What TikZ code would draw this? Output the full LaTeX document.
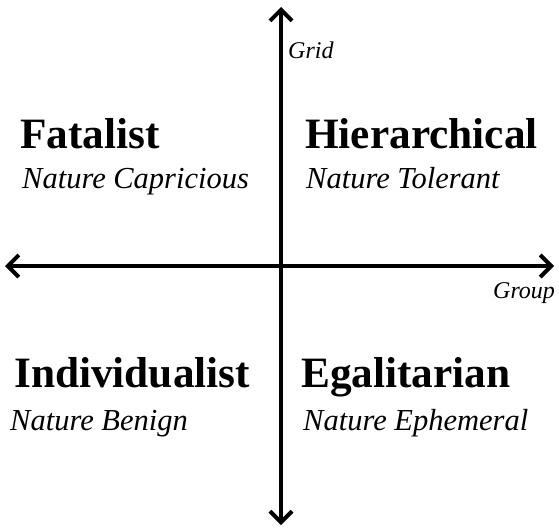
\documentclass[tikz,border=0pt]{standalone}
\usepackage{fontspec}
\setmainfont{Liberation Serif}
\usetikzlibrary{arrows.meta}
\tikzset{
  axis/.style={line width=4pt,{Straight Barb[length=11pt,width=22pt,line width=4pt]}-{Straight Barb[length=11pt,width=22pt,line width=4pt]}},
  head/.style={anchor=base west,inner sep=0pt,font=\fontsize{43.3}{47}\selectfont\bfseries},
  sub/.style={anchor=base west,inner sep=0pt,font=\fontsize{30.5}{33}\selectfont\itshape},
  axlabel/.style={anchor=base west,inner sep=0pt,font=\fontsize{24}{26}\selectfont\itshape}
}
\begin{document}
\begin{tikzpicture}[x=1pt,y=-1pt]
\useasboundingbox (0,0) rectangle (559,530);
\coordinate (top) at (281,7);
\coordinate (bottom) at (281,525);
\coordinate (left) at (5,266);
\coordinate (right) at (554,266);
\draw[axis] (bottom) -- (top);
\draw[axis] (left) -- (right);
\node[axlabel] (grid) at (288,58) {Grid};
\node[axlabel] (group) at (493,298) {Group};
\node[head] (fat) at (20,148) {Fatalist};
\node[sub] (fatn) at (22,188) {Nature Capricious};
\node[head] (hier) at (305,148) {Hierarchical};
\node[sub] (hiern) at (306,188) {Nature Tolerant};
\node[head] (ind) at (14,387) {Individualist};
\node[sub] (indn) at (10,430) {Nature Benign};
\node[head] (ega) at (301,387) {Egalitarian};
\node[sub] (egan) at (303,430) {Nature Ephemeral};
\end{tikzpicture}
\end{document}
